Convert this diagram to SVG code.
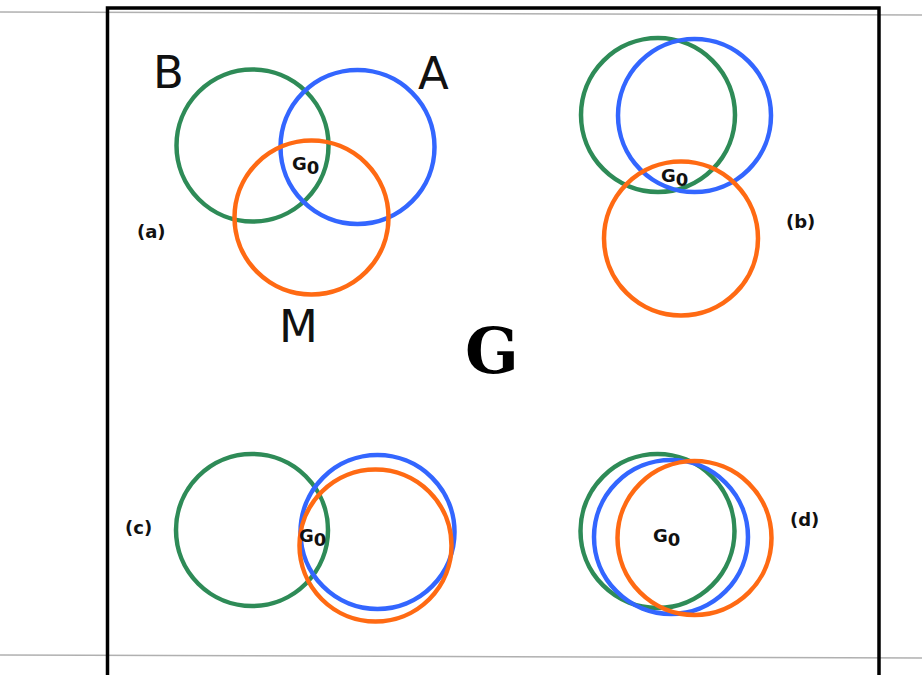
<svg xmlns="http://www.w3.org/2000/svg" width="922" height="675" viewBox="0 0 922 675">
<style>
.c{fill:none;stroke-width:4.5}
.g{stroke:#2e8b57}
.b{stroke:#3366ff}
.o{stroke:#ff6a13}
.big{font-family:"DejaVu Sans","Liberation Sans",sans-serif;font-size:45px;fill:#111}
.g0{font-family:"DejaVu Sans","Liberation Sans",sans-serif;font-size:18px;font-weight:bold;fill:#111}
.lab{font-family:"DejaVu Sans","Liberation Sans",sans-serif;font-size:18px;font-weight:bold;fill:#111}
.scan{stroke:#b0b0b0;stroke-width:1.5;fill:none}
</style>
<rect x="0" y="0" width="922" height="675" fill="#ffffff"/>
<line class="scan" x1="0" y1="12" x2="922" y2="15"/>
<line class="scan" x1="0" y1="655" x2="922" y2="658"/>
<rect x="107.5" y="8" width="771.5" height="720" fill="none" stroke="#000" stroke-width="3.5"/>

<g id="panel-a">
  <circle class="c g" cx="252.5" cy="145.5" r="76"/>
  <circle class="c b" cx="357.5" cy="147" r="77"/>
  <circle class="c o" cx="311.5" cy="217.5" r="77"/>
  <text class="big" x="153" y="88">B</text>
  <text class="big" x="418" y="89">A</text>
  <text class="big" x="279" y="342">M</text>
  <text class="g0" x="292" y="170">G<tspan dy="4">0</tspan></text>
  <text class="lab" x="137" y="238">(a)</text>
</g>

<g id="panel-b">
  <circle class="c g" cx="658" cy="115" r="77"/>
  <circle class="c b" cx="694.5" cy="115.5" r="76.5"/>
  <circle class="c o" cx="681" cy="238.5" r="77"/>
  <text class="g0" x="661" y="182">G<tspan dy="4">0</tspan></text>
  <text class="lab" x="786" y="228">(b)</text>
</g>

<g id="panel-c">
  <circle class="c g" cx="252" cy="530" r="76"/>
  <circle class="c b" cx="377.5" cy="532" r="77"/>
  <circle class="c o" cx="375.5" cy="545.5" r="76"/>
  <text class="g0" x="299" y="542">G<tspan dy="4">0</tspan></text>
  <text class="lab" x="125" y="534">(c)</text>
</g>

<g id="panel-d">
  <circle class="c g" cx="657.5" cy="531" r="77"/>
  <circle class="c b" cx="671" cy="537" r="77"/>
  <circle class="c o" cx="694.5" cy="538" r="77"/>
  <text class="g0" x="653" y="542">G<tspan dy="4">0</tspan></text>
  <text class="lab" x="790" y="526">(d)</text>
</g>

<g id="title">
  <text x="465" y="373" font-family="'DejaVu Serif','Liberation Serif',serif" font-weight="bold" font-size="63" fill="#000">G</text>
</g>
</svg>
